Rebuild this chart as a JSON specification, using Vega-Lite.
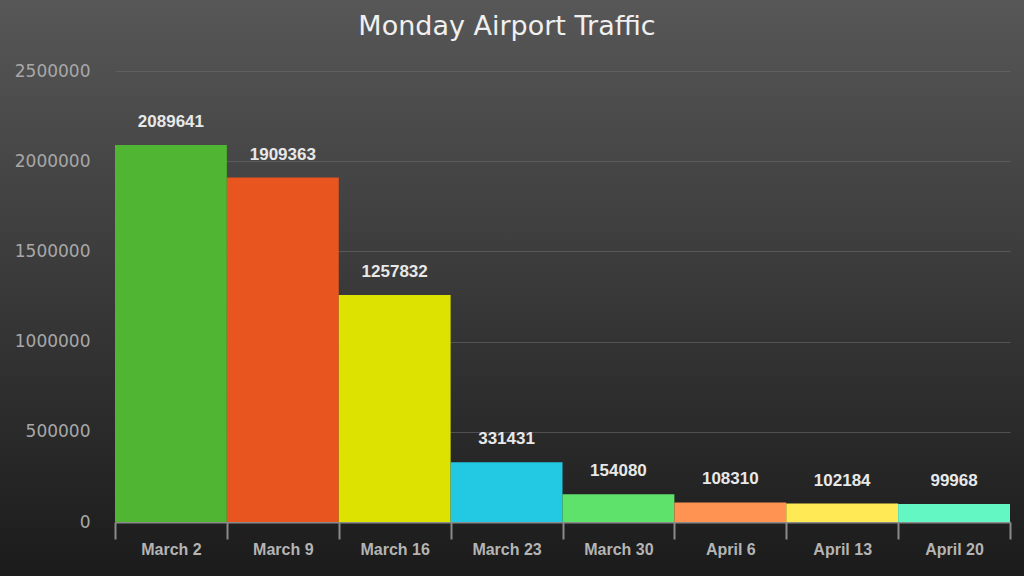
{
  "$schema": "https://vega.github.io/schema/vega-lite/v6.json",
  "width": 1024,
  "height": 576,
  "autosize": {"type": "none"},
  "padding": 0,
  "background": "#383838",
  "title": {
    "text": "Monday Airport Traffic",
    "font": "DejaVu Sans",
    "fontSize": 27,
    "fontWeight": "normal",
    "color": "#f0f0f0",
    "anchor": "middle",
    "dx": -5,
    "offset": -41
  },
  "data": {
    "values": [
      {"week": "March 2", "travelers": 2089641},
      {"week": "March 9", "travelers": 1909363},
      {"week": "March 16", "travelers": 1257832},
      {"week": "March 23", "travelers": 331431},
      {"week": "March 30", "travelers": 154080},
      {"week": "April 6", "travelers": 108310},
      {"week": "April 13", "travelers": 102184},
      {"week": "April 20", "travelers": 99968}
    ]
  },
  "encoding": {
    "x": {
      "field": "week",
      "type": "nominal",
      "sort": null,
      "title": null,
      "scale": {"range": [115, 1010], "paddingInner": 0, "paddingOuter": 0},
      "axis": {
        "offset": -54,
        "labelAngle": 0,
        "labelFont": "Liberation Sans",
        "labelFontSize": 16,
        "labelFontWeight": "bold",
        "labelColor": "#b4b4b4",
        "labelPadding": 2,
        "domainColor": "#8a8a8a",
        "domainWidth": 2,
        "tickColor": "#8a8a8a",
        "tickWidth": 2,
        "tickSize": 17,
        "tickBand": "extent",
        "grid": false
      }
    },
    "y": {
      "field": "travelers",
      "type": "quantitative",
      "title": null,
      "scale": {"domain": [0, 2500000], "range": [522, 71]},
      "axis": {
        "offset": -115,
        "values": [0, 500000, 1000000, 1500000, 2000000, 2500000],
        "format": "d",
        "labelFont": "DejaVu Sans",
        "labelFontSize": 17,
        "labelLetterSpacing": 1.2,
        "labelColor": "#a8a8a8",
        "labelPadding": 25,
        "domain": false,
        "ticks": false,
        "gridColor": "#6a6a6a",
        "gridOpacity": 0.6
      }
    }
  },
  "layer": [
    {
      "mark": {"type": "bar"},
      "encoding": {
        "color": {
          "field": "week",
          "type": "nominal",
          "legend": null,
          "scale": {
            "domain": ["March 2", "March 9", "March 16", "March 23", "March 30", "April 6", "April 13", "April 20"],
            "range": ["#4fb532", "#e9551e", "#dde200", "#23c9e2", "#5fe26c", "#ff9452", "#ffea55", "#63f7c4"]
          }
        }
      }
    },
    {
      "mark": {
        "type": "text",
        "dy": -23,
        "font": "Liberation Sans",
        "fontSize": 17,
        "fontWeight": "bold",
        "letterSpacing": 2,
        "color": "#e8e8e8"
      },
      "encoding": {
        "text": {"field": "travelers", "type": "quantitative", "format": "d"}
      }
    }
  ],
  "config": {
    "view": {
      "stroke": null,
      "fill": {
        "gradient": "linear",
        "x1": 0, "y1": 0, "x2": 0, "y2": 1,
        "stops": [
          {"offset": 0, "color": "#575757"},
          {"offset": 1, "color": "#1b1b1b"}
        ]
      }
    }
  }
}
